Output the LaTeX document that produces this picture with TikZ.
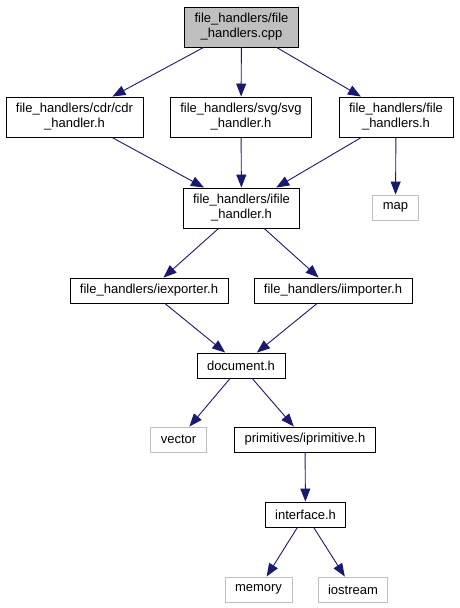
\documentclass[tikz,border=0pt]{standalone}
\usepackage{xcolor}
\usepackage{fontspec}
\setmainfont{Liberation Sans}
\usepackage{tikz}
\usetikzlibrary{arrows.meta}
\definecolor{depblue}{HTML}{191970}
\definecolor{sysgray}{HTML}{BFBFBF}

\begin{document}
\begin{tikzpicture}[x=1pt, y=-1pt,
    filebox/.style={draw=black, line width=0.9pt, fill=white, align=center,
          inner xsep=10pt, inner ysep=0pt, minimum height=25pt,
          font=\fontsize{13}{15}\selectfont},
    twoline/.style={filebox, minimum height=40pt},
    rootbox/.style={twoline, fill=sysgray},
    sysbox/.style={filebox, draw=sysgray},
    dep/.style={draw=depblue, line width=0.9pt, -{Triangle[length=13pt, width=10pt]}}]
    \useasboundingbox (0,0) rectangle (459,608);
    % files, top row first
    \node[rootbox] (fhcpp) at (241.5,27) {file\_handlers/file\\\_handlers.cpp};
    \node[twoline] (cdr) at (74.5,117) {file\_handlers/cdr/cdr\\\_handler.h};
    \node[twoline] (svg) at (241,117) {file\_handlers/svg/svg\\\_handler.h};
    \node[twoline] (fhh) at (396,117) {file\_handlers/file\\\_handlers.h};
    \node[twoline] (ifile) at (241.5,208) {file\_handlers/ifile\\\_handler.h};
    \node[sysbox] (map) at (395.5,207.5) {map};
    \node[filebox] (iexp) at (149,290.5) {file\_handlers/iexporter.h};
    \node[filebox] (iimp) at (333,290.5) {file\_handlers/iimporter.h};
    \node[filebox] (doc) at (241,365.5) {document.h};
    \node[sysbox] (vector) at (178.5,439.5) {vector};
    \node[filebox] (iprim) at (305,439.5) {primitives/iprimitive.h};
    \node[filebox] (iface) at (305.5,514.5) {interface.h};
    \node[sysbox] (memory) at (258.5,589.5) {memory};
    \node[sysbox] (iostream) at (353,589.5) {iostream};
    % includes
    \draw[dep] (fhcpp) -- (cdr);
    \draw[dep] (fhcpp) -- (svg);
    \draw[dep] (fhcpp) -- (fhh);
    \draw[dep] (cdr) -- (ifile);
    \draw[dep] (svg) -- (ifile);
    \draw[dep] (fhh) -- (ifile);
    \draw[dep] (fhh) -- (map);
    \draw[dep] (ifile) -- (iexp);
    \draw[dep] (ifile) -- (iimp);
    \draw[dep] (iexp) -- (doc);
    \draw[dep] (iimp) -- (doc);
    \draw[dep] (doc) -- (vector);
    \draw[dep] (doc) -- (iprim);
    \draw[dep] (iprim) -- (iface);
    \draw[dep] (iface) -- (memory);
    \draw[dep] (iface) -- (iostream);
\end{tikzpicture}
\end{document}
